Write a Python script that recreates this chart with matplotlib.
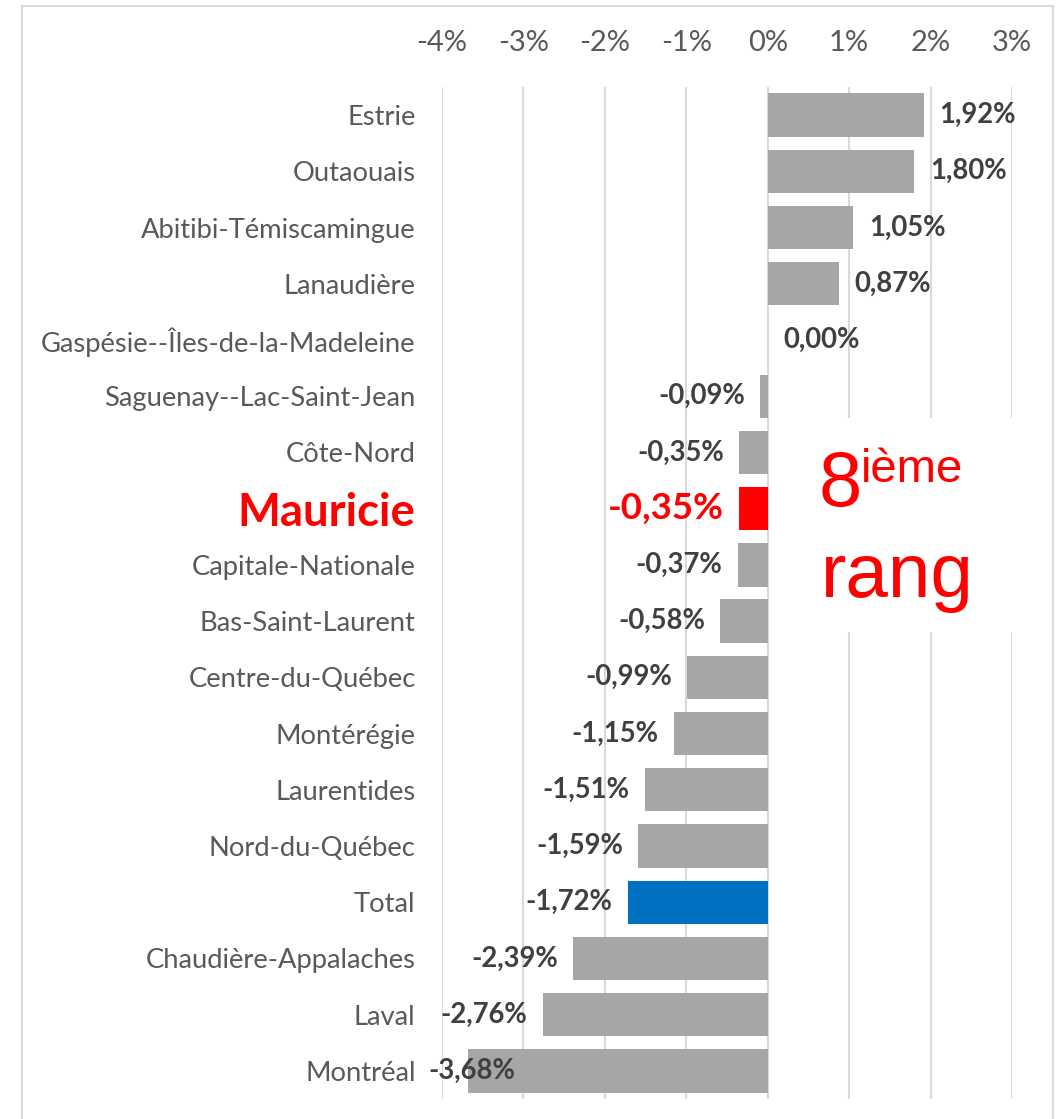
import numpy as np
import matplotlib.pyplot as plt
from matplotlib.patches import Rectangle

# Regions and change (%)
regions = ["Estrie", "Outaouais", "Abitibi-Témiscamingue", "Lanaudière",
           "Gaspésie--Îles-de-la-Madeleine", "Saguenay--Lac-Saint-Jean",
           "Côte-Nord", "Mauricie", "Capitale-Nationale", "Bas-Saint-Laurent",
           "Centre-du-Québec", "Montérégie", "Laurentides", "Nord-du-Québec",
           "Total", "Chaudière-Appalaches", "Laval", "Montréal"]
values = [1.92, 1.80, 1.05, 0.87, 0.00, -0.09, -0.35, -0.35, -0.37, -0.58,
          -0.99, -1.15, -1.51, -1.59, -1.72, -2.39, -2.76, -3.68]
xticks = [-4, -3, -2, -1, 0, 1, 2, 3]
highlight = "Mauricie"
total = "Total"

gray = '#A6A6A6'
red = '#FF0000'
blue = '#0070C0'
lab_col = '#595959'
val_col = '#404040'
font = 'Lato'

W, H = 1061, 1119
fig = plt.figure(figsize=(W / 100, H / 100), dpi=100)
ax = fig.add_axes([442 / W, 1 - 1099 / H, 570 / W, 1012 / H])

colors = [red if r == highlight else blue if r == total else gray for r in regions]
y = np.arange(len(regions))
ax.barh(y, values, height=0.77, color=colors, zorder=2)

ax.set_xlim(xticks[0], xticks[-1])
ax.set_ylim(len(regions) - 0.5, -0.5)
ax.set_xticks(xticks)
ax.set_xticklabels([f"{t}%" for t in xticks], fontfamily=font, fontsize=21, color=lab_col)
ax.xaxis.tick_top()
ax.tick_params(axis='x', length=0, pad=22)
ax.set_yticks(y)
ax.set_yticklabels(regions, fontfamily=font, fontsize=19.7, color=lab_col)
ax.tick_params(axis='y', length=0, pad=19)
for lbl in ax.get_yticklabels():
    if lbl.get_text() == highlight:
        lbl.set_color(red)
        lbl.set_fontweight('bold')
        lbl.set_fontsize(32.8)

ax.grid(axis='x', color='#D9D9D9', linewidth=1.5, zorder=0)
ax.set_axisbelow(True)
for s in ax.spines.values():
    s.set_visible(False)

# value labels
pad = 0.19
for i, (r, v) in enumerate(zip(regions, values)):
    txt = f"{v:.2f}%".replace('.', ',')
    kw = dict(va='center', fontfamily=font, fontweight='bold', fontsize=19.8, color=val_col)
    if r == highlight:
        kw.update(color=red, fontsize=26.4)
    if v >= 0:
        ax.text(v + pad, i, txt, ha='left', **kw)
    elif v - pad - 1.05 < xticks[0]:
        ax.text(xticks[0] - 0.17, i, txt, ha='left', zorder=3, **kw)
    else:
        ax.text(v - pad, i, txt, ha='right', **kw)

# rank annotation box
fig.add_artist(Rectangle((772 / W, 1 - 632 / H), 280 / W, 214 / H,
                         transform=fig.transFigure, facecolor='white', edgecolor='none'))
fig.text(819 / W, 1 - 506 / H, "8", color=red, fontsize=56, family='Liberation Sans',
         ha='left', va='baseline')
fig.text(861 / W, 1 - 482 / H, "ième", color=red, fontsize=34, family='Liberation Sans',
         ha='left', va='baseline')
fig.text(821 / W, 1 - 597 / H, "rang", color=red, fontsize=55, family='Liberation Sans',
         ha='left', va='baseline')

# chart border
fig.add_artist(Rectangle((22 / W, -0.05), 1031 / W, 1.05 - 6 / H, transform=fig.transFigure,
                         fill=False, edgecolor='#D9D9D9', linewidth=1.5))

fig.savefig('out.png', dpi=100)
